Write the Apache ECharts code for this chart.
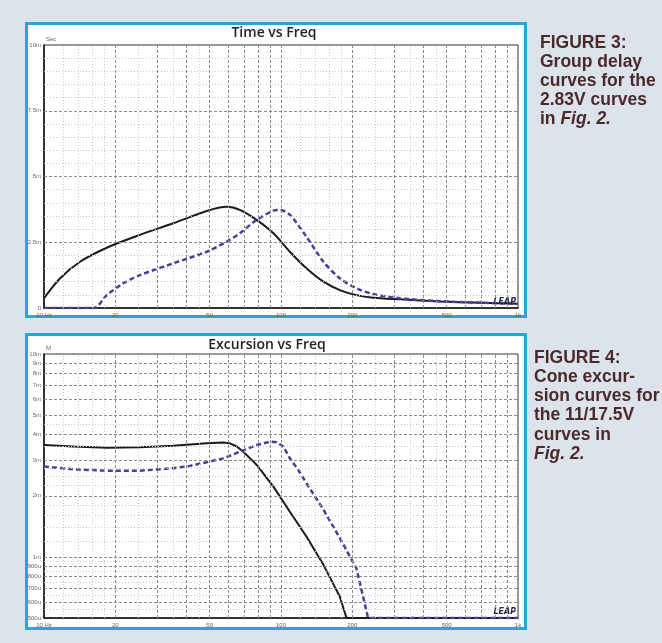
<!DOCTYPE html>
<html><head><meta charset="utf-8">
<script src="https://cdn.jsdelivr.net/npm/echarts@6.0.0/dist/echarts.min.js"></script>
<style>html,body{margin:0;padding:0;background:#dde3ea;}#c{width:662px;height:643px;}</style>
</head><body><div id="c"></div>
<script>
// ---- data ----
const freqTicks = [10, 20, 50, 100, 200, 500, 1000];
const delayTicks = [0, 2.5, 5, 7.5, 10];
const excTicks = [0.5, 0.6, 0.7, 0.8, 0.9, 1, 2, 3, 4, 5, 6, 7, 8, 9, 10];

const delayFreqSolid = [10, 11.7, 14.2, 18.4, 25.4, 35.1, 48.6, 58.9, 67, 78.9, 92.9, 109, 128, 151, 177, 208, 245, 318, 470, 700, 1000];
const delaySolid     = [0.37, 1.13, 1.76, 2.29, 2.78, 3.22, 3.69, 3.85, 3.73, 3.35, 2.84, 2.14, 1.51, 1.0, 0.68, 0.49, 0.39, 0.33, 0.25, 0.2, 0.16];
const delayFreqDashed = [10, 16.2, 18.4, 21.6, 25.4, 35.1, 48.6, 58.9, 67, 78.9, 92.9, 98.9, 109, 128, 151, 177, 208, 245, 318, 470, 700, 1000];
const delayDashed     = [0, 0, 0.49, 0.94, 1.25, 1.70, 2.14, 2.52, 2.84, 3.35, 3.70, 3.73, 3.54, 2.71, 1.76, 1.13, 0.75, 0.53, 0.37, 0.26, 0.2, 0.16];

const excFreqSolid = [10, 13.3, 18.4, 25.4, 35.1, 48.6, 57.1, 60.9, 65.1, 69.3, 74.1, 79, 92.9, 109, 128, 151, 177, 189, 1000];
const excSolid     = [3.56, 3.50, 3.45, 3.47, 3.535, 3.63, 3.66, 3.63, 3.50, 3.30, 3.06, 2.84, 2.22, 1.67, 1.26, 0.914, 0.638, 0.5, 0.5];
const excFreqDashed = [10, 13.3, 18.4, 25.4, 35.1, 41.3, 48.6, 57.1, 67.1, 79, 89.9, 95.9, 102.3, 109, 118.3, 128, 151, 177, 208, 233, 1000];
const excDashed     = [2.79, 2.70, 2.66, 2.66, 2.735, 2.81, 2.93, 3.06, 3.30, 3.56, 3.70, 3.67, 3.50, 3.06, 2.68, 2.31, 1.71, 1.24, 0.88, 0.5, 0.5];

// grid line positions (axis values)
const xMajorGrid = [20, 30, 40, 50, 60, 70, 80, 90, 100, 200, 300, 400, 500, 600, 700, 800, 900];
const xMinorGrid = [12, 14, 16, 18, 25, 35, 45, 120, 140, 160, 180, 250, 350, 450];
const delayMajorGrid = [2.5, 5, 7.5];
const delayMinorGrid = [0.5, 1, 1.5, 2, 3, 3.5, 4, 4.5, 5.5, 6, 6.5, 7, 8, 8.5, 9, 9.5];
const excMajorGrid = [0.6, 0.7, 0.8, 0.9, 1, 2, 3, 4, 5, 6, 7, 8, 9];
const excMinorGrid = [0.55, 0.65, 0.75, 0.85, 0.95, 1.2, 1.4, 1.6, 1.8, 2.25, 2.5, 2.75, 3.5, 4.5];

const caption3 = ['FIGURE 3:', 'Group delay', 'curves for the', '2.83V curves'];
const caption4 = ['FIGURE 4:', 'Cone excur-', 'sion curves for', 'the 11/17.5V', 'curves in'];

// ---- helpers ----
const pair = (xs, ys) => xs.map((x, i) => [x, ys[i]]);
const majorStyle = {color: '#8a8a8a', type: [3, 2], width: 1};
const minorStyle = {color: '#c8c8c8', type: [1, 2], width: 1};
function gridLines(xIdx, yIdx, xMaj, xMin, yMaj, yMin) {
  const d = [];
  xMin.forEach(v => d.push({xAxis: v, lineStyle: minorStyle}));
  yMin.forEach(v => d.push({yAxis: v, lineStyle: minorStyle}));
  xMaj.forEach(v => d.push({xAxis: v, lineStyle: majorStyle}));
  yMaj.forEach(v => d.push({yAxis: v, lineStyle: majorStyle}));
  return {
    type: 'line', xAxisIndex: xIdx, yAxisIndex: yIdx, data: [], z: 1, silent: true,
    markLine: {silent: true, symbol: ['none', 'none'], label: {show: false}, animation: false, data: d}
  };
}
const lblStyle = {fontSize: 6, color: '#666', fontFamily: 'Liberation Sans, Arial, sans-serif'};
const xFmt = v => v === 10 ? '10 Hz' : (v === 1000 ? '1k' : String(Math.round(v)));
function xAxisCfg(g) {
  return {
    type: 'log', logBase: 10, gridIndex: g, min: 10, max: 1000,
    axisLine: {show: true, lineStyle: {color: '#111', width: 1.5}},
    axisTick: {show: false}, splitLine: {show: false},
    axisLabel: Object.assign({customValues: freqTicks, formatter: xFmt, margin: 4, showMinLabel: true, showMaxLabel: true}, lblStyle)
  };
}
const capFont = '"Liberation Sans", Arial, sans-serif';
const capColor = '#4a2a2c';
function capText(x, y, t) {
  return {type: 'text', x: x, y: y, z: 5, style: {text: t, fill: capColor, font: 'bold 17.5px ' + capFont, verticalAlign: 'middle'}};
}
function capRich(x, y, t) {
  return {type: 'text', x: x, y: y, z: 5, style: {text: t, verticalAlign: 'middle',
    rich: {n: {fill: capColor, fontSize: 17.5, fontWeight: 'bold', fontFamily: capFont},
           i: {fill: capColor, fontSize: 17.5, fontWeight: 'bold', fontStyle: 'italic', fontFamily: capFont}}}};
}

const graphics = [
  {type: 'rect', z: -10, shape: {x: 26.5, y: 23.5, width: 499, height: 293}, style: {fill: '#fff', stroke: '#27a6db', lineWidth: 3}},
  {type: 'rect', z: -10, shape: {x: 26.5, y: 334.5, width: 499, height: 294}, style: {fill: '#fff', stroke: '#27a6db', lineWidth: 3}},
  {type: 'text', x: 274, y: 33, z: 5, style: {text: 'Time vs Freq', fill: '#222', font: '600 14px "Open Sans", sans-serif', align: 'center', verticalAlign: 'middle'}},
  {type: 'text', x: 267, y: 345, z: 5, style: {text: 'Excursion vs Freq', fill: '#222', font: '600 14px "Open Sans", sans-serif', align: 'center', verticalAlign: 'middle'}},
  {type: 'text', x: 516, y: 302, z: 5, style: {text: 'LEAP', fill: '#23264a', font: 'italic bold 8px "DejaVu Sans", sans-serif', align: 'right', verticalAlign: 'middle'}},
  {type: 'text', x: 516, y: 612, z: 5, style: {text: 'LEAP', fill: '#23264a', font: 'italic bold 8px "DejaVu Sans", sans-serif', align: 'right', verticalAlign: 'middle'}}
];
const cap3Y = [43, 62, 81, 100];
caption3.forEach((t, i) => graphics.push(capText(540, cap3Y[i], t)));
graphics.push(capRich(540, 119, '{n|in }{i|Fig. 2.}'));
const cap4Y = [358, 377, 396, 415, 435];
caption4.forEach((t, i) => graphics.push(capText(534, cap4Y[i], t)));
graphics.push(capRich(534, 454, '{i|Fig. 2.}'));

const solidStyle = {color: '#1b1b1b', width: 2};
const dashStyle = {color: '#4f3c96', width: 2.5, type: [5, 3]};
const curve = (xi, yi, z, data, style, sm) => ({type: 'line', xAxisIndex: xi, yAxisIndex: yi, z: z, data: data, smooth: sm, showSymbol: false, lineStyle: style});

const option = {
  animation: false,
  backgroundColor: '#dde3ea',
  grid: [
    {left: 44, top: 45, width: 474, height: 263, show: true, borderColor: '#333', borderWidth: 1, backgroundColor: 'transparent'},
    {left: 44, top: 354, width: 474, height: 264, show: true, borderColor: '#333', borderWidth: 1, backgroundColor: 'transparent'}
  ],
  xAxis: [xAxisCfg(0), xAxisCfg(1)],
  yAxis: [
    {type: 'value', gridIndex: 0, min: 0, max: 10, interval: 2.5,
     name: 'Sec', nameLocation: 'end', nameGap: 3, nameTextStyle: Object.assign({align: 'left', padding: [0, 0, 0, 2]}, lblStyle),
     axisLine: {show: true, lineStyle: {color: '#111', width: 1.5}}, axisTick: {show: false}, splitLine: {show: false},
     axisLabel: Object.assign({formatter: v => v === 0 ? '0' : v + 'm', margin: 3}, lblStyle)},
    {type: 'log', logBase: 10, gridIndex: 1, min: 0.5, max: 10,
     name: 'M', nameLocation: 'end', nameGap: 3, nameTextStyle: Object.assign({align: 'left', padding: [0, 0, 0, 2]}, lblStyle),
     axisLine: {show: true, lineStyle: {color: '#111', width: 1.5}}, axisTick: {show: false}, splitLine: {show: false},
     axisLabel: Object.assign({customValues: excTicks, formatter: v => v < 0.999 ? Math.round(v * 1000) + 'u' : Math.round(v) + 'm', margin: 3, showMinLabel: true, showMaxLabel: true}, lblStyle)}
  ],
  graphic: graphics,
  series: [
    gridLines(0, 0, xMajorGrid, xMinorGrid, delayMajorGrid, delayMinorGrid),
    gridLines(1, 1, xMajorGrid, xMinorGrid, excMajorGrid, excMinorGrid),
    curve(0, 0, 3, pair(delayFreqSolid, delaySolid), solidStyle, 0.3),
    curve(0, 0, 4, pair(delayFreqDashed, delayDashed), dashStyle, 0.3),
    curve(1, 1, 3, pair(excFreqSolid, excSolid), solidStyle, false),
    curve(1, 1, 4, pair(excFreqDashed, excDashed), dashStyle, false)
  ]
};
const chart = echarts.init(document.getElementById('c'), null, {renderer: 'canvas'});
chart.setOption(option);
</script></body></html>
